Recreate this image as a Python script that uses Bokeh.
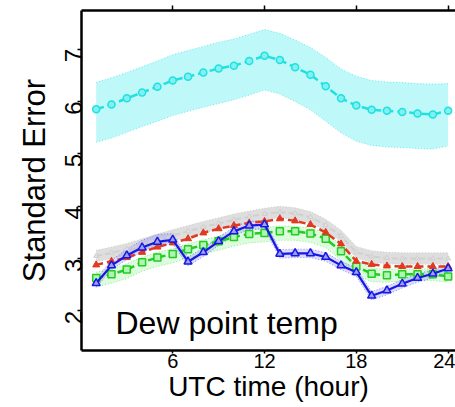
import math
from bokeh.plotting import figure
from bokeh.models import Range1d, LinearAxis, FixedTicker, Label
from bokeh.embed import file_html
from bokeh.resources import INLINE

hours = list(range(1, 25))

cyan = [5.85, 5.94, 6.06, 6.17, 6.28, 6.40, 6.47, 6.55, 6.63, 6.68, 6.77, 6.87,
        6.79, 6.65, 6.51, 6.29, 6.06, 5.92, 5.84, 5.82, 5.80, 5.77, 5.75, 5.82]
cyan_hi = [6.36, 6.45, 6.55, 6.66, 6.77, 6.89, 6.97, 7.05, 7.13, 7.19, 7.28, 7.37,
           7.30, 7.17, 7.03, 6.84, 6.62, 6.48, 6.40, 6.37, 6.36, 6.34, 6.33, 6.34]
cyan_lo = [5.22, 5.30, 5.41, 5.52, 5.62, 5.73, 5.81, 5.89, 5.96, 6.03, 6.12, 6.22,
           6.14, 6.00, 5.84, 5.62, 5.40, 5.24, 5.16, 5.13, 5.12, 5.10, 5.09, 5.15]

gray = [3.05, 3.11, 3.18, 3.27, 3.36, 3.44, 3.52, 3.60, 3.67, 3.74, 3.80, 3.85,
        3.89, 3.86, 3.79, 3.64, 3.43, 3.12, 3.04, 3.01, 3.00, 3.00, 3.00, 3.00]
gray_hi = [3.16, 3.22, 3.29, 3.38, 3.47, 3.55, 3.63, 3.71, 3.78, 3.85, 3.91, 3.96,
           4.00, 3.97, 3.90, 3.75, 3.54, 3.23, 3.15, 3.12, 3.11, 3.11, 3.11, 3.11]
gray_lo = [2.94, 3.00, 3.07, 3.16, 3.25, 3.33, 3.41, 3.49, 3.56, 3.63, 3.69, 3.74,
           3.78, 3.75, 3.68, 3.53, 3.32, 3.01, 2.93, 2.90, 2.89, 2.89, 2.89, 2.89]

red = [2.88, 2.95, 3.02, 3.12, 3.22, 3.30, 3.38, 3.49, 3.57, 3.63, 3.68, 3.71,
       3.76, 3.72, 3.65, 3.50, 3.28, 2.95, 2.89, 2.86, 2.85, 2.85, 2.85, 2.85]

green = [2.63, 2.70, 2.79, 2.93, 3.02, 3.09, 3.18, 3.26, 3.33, 3.41, 3.47, 3.49,
         3.52, 3.52, 3.48, 3.38, 3.14, 2.85, 2.71, 2.68, 2.70, 2.70, 2.70, 2.66]
green_hi = [2.74, 2.81, 2.90, 3.03, 3.12, 3.19, 3.28, 3.36, 3.43, 3.51, 3.57, 3.59,
            3.62, 3.62, 3.58, 3.49, 3.26, 2.97, 2.82, 2.79, 2.80, 2.80, 2.80, 2.77]
green_lo = [2.46, 2.53, 2.62, 2.76, 2.85, 2.92, 3.01, 3.09, 3.16, 3.24, 3.30, 3.32,
            3.35, 3.35, 3.31, 3.21, 2.97, 2.68, 2.56, 2.55, 2.57, 2.58, 2.58, 2.55]

blue = [2.53, 2.87, 3.06, 3.21, 3.32, 3.36, 2.94, 3.12, 3.33, 3.52, 3.63, 3.65,
        3.09, 3.10, 3.10, 3.03, 2.87, 2.74, 2.29, 2.39, 2.52, 2.63, 2.71, 2.81]
blue_hi = [2.61, 2.97, 3.18, 3.35, 3.46, 3.48, 3.03, 3.20, 3.41, 3.60, 3.71, 3.73,
           3.17, 3.18, 3.18, 3.11, 2.95, 2.82, 2.37, 2.47, 2.60, 2.71, 2.79, 2.89]
blue_lo = [2.45, 2.79, 2.98, 3.13, 3.24, 3.28, 2.86, 3.04, 3.25, 3.44, 3.55, 3.57,
           3.01, 3.02, 3.02, 2.95, 2.79, 2.66, 2.21, 2.31, 2.44, 2.55, 2.63, 2.73]

x_ticks = [6, 12, 18, 24]
y_ticks = [2, 3, 4, 5, 6, 7]
FONT = "Liberation Sans"

p = figure(width=455, height=407, output_backend="svg", toolbar_location=None,
           x_range=Range1d(0.04, 24.48), y_range=Range1d(1.246, 7.735),
           min_border_left=81, min_border_right=0, min_border_top=10,
           min_border_bottom=57)
p.outline_line_color = None
p.grid.visible = False
p.background_fill_color = "white"
p.border_fill_color = "white"

def band(hi, lo, fill, alpha, edge):
    p.varea(x=hours, y1=lo, y2=hi, fill_color=fill, fill_alpha=alpha)
    p.line(hours, hi, line_color=edge, line_dash="1 2", line_width=1, line_alpha=0.6)
    p.line(hours, lo, line_color=edge, line_dash="1 2", line_width=1, line_alpha=0.6)

# bands
band(cyan_hi, cyan_lo, "#00e5e5", 0.25, "#20e0e0")
band(gray_hi, gray_lo, "#c8c8c8", 0.6, "#b8b8b8")
band(green_hi, green_lo, "#66ee66", 0.22, "#55dd55")
band(blue_hi, blue_lo, "#7070ff", 0.25, "#5050ee")

# cyan series
p.line(hours, cyan, line_color="#20e0e0", line_width=2.5, line_dash="8 4")
p.scatter(hours, cyan, marker="circle", size=7, line_color="#20e0e0",
          fill_color="#80f0f0", line_width=1.5)

# gray series
p.line(hours, gray, line_color="#d0d0d0", line_width=2, line_dash="6 3")
p.scatter(hours, gray, marker="triangle", size=5, line_color="#d0d0d0",
          fill_color="#e0e0e0", line_width=1)

# green series
p.line(hours, green, line_color="#22cc22", line_width=2.5, line_dash="7 4")
p.scatter(hours, green, marker="square", size=7, line_color="#22cc22",
          fill_color="#b0f5b0", line_width=1.5)

# red series
p.line(hours, red, line_color="#e03a20", line_width=2.5, line_dash="7 4")
p.scatter(hours, red, marker="triangle", size=7, line_color="#e03a20",
          fill_color="#e03a20", line_width=1)

# blue series
p.line(hours, blue, line_color="#1818e0", line_width=2.2)
p.scatter(hours, blue, marker="triangle", size=8, line_color="#1818e0",
          fill_color="#a0a0ff", line_width=1.5)

# axes
xa = p.xaxis[0]
xa.ticker = FixedTicker(ticks=x_ticks)
xa.axis_label = "UTC time (hour)"
ya = p.yaxis[0]
ya.ticker = FixedTicker(ticks=y_ticks)
ya.axis_label = "Standard Error"
ya.major_label_orientation = math.pi / 2

for ax in (xa, ya):
    ax.axis_line_width = 2.5
    ax.axis_line_color = "black"
    ax.major_tick_line_width = 1.5
    ax.minor_tick_line_color = None
    ax.major_tick_in = 0
    ax.major_label_text_font = FONT
    ax.major_label_text_color = "black"
    ax.axis_label_text_font = FONT
    ax.axis_label_text_font_style = "normal"
    ax.axis_label_text_color = "black"

xa.major_tick_out = 3
xa.major_label_standoff = 0
xa.axis_label_standoff = 0
xa.major_label_text_font_size = "20px"
xa.axis_label_text_font_size = "28px"

ya.major_tick_out = 4
ya.major_label_standoff = 4
ya.axis_label_standoff = 2
ya.major_label_text_font_size = "24px"
ya.axis_label_text_font_size = "31px"

top = LinearAxis(ticker=FixedTicker(ticks=x_ticks), axis_line_width=2.5,
                 axis_line_color="black", major_tick_out=5, major_tick_in=0,
                 major_tick_line_width=1.5, minor_tick_line_color=None,
                 major_label_text_font_size="0px", major_label_standoff=0)
top.major_label_overrides = {t: "" for t in x_ticks}
p.add_layout(top, "above")

p.add_layout(Label(x=2.26, y=1.78, text="Dew point temp", text_font=FONT,
                   text_font_size="32px", text_color="black",
                   text_baseline="alphabetic", text_align="left"))

open("out.html", "w").write(file_html(p, INLINE))
